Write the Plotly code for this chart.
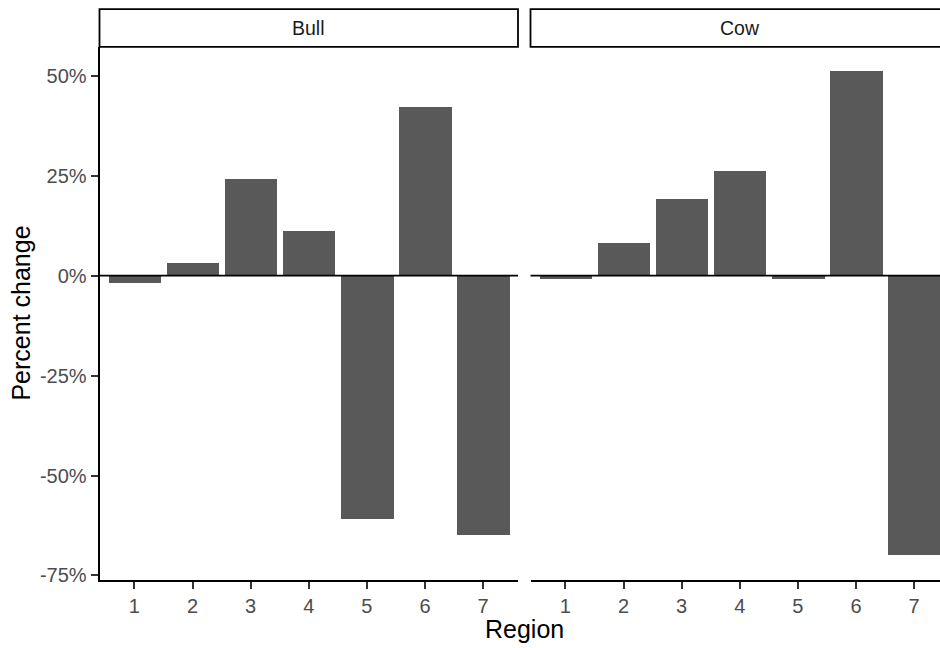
import plotly.graph_objects as go

# Percent change by region, faceted by animal class
regions = [1, 2, 3, 4, 5, 6, 7]
bull_change = [-0.02, 0.03, 0.24, 0.11, -0.61, 0.42, -0.65]
cow_change = [-0.01, 0.08, 0.19, 0.26, -0.01, 0.51, -0.70]
facets = ["Bull", "Cow"]
y_ticks = [-0.75, -0.50, -0.25, 0.0, 0.25, 0.50]
y_tick_labels = ["-75%", "-50%", "-25%", "0%", "25%", "50%"]

W, H = 940, 648
FONT = "Liberation Sans"
BAR = "#595959"

# panel geometry in pixels
left_panel = (99.5, 518.0)
right_panel = (530.5, 949.5)
panel_top, panel_bottom = 48.0, 586.0
strip_top, strip_bottom = 9.3, 47.3
px_per_unit = (left_panel[1] - left_panel[0]) / 7.2


def px(x):
    return x / W


def py(y):
    return 1 - y / H


fig = go.Figure()
for vals, xa, ya in [(bull_change, "x", "y"), (cow_change, "x2", "y2")]:
    fig.add_trace(go.Bar(
        x=regions, y=vals, width=0.9, xaxis=xa, yaxis=ya,
        marker=dict(color=BAR, line=dict(width=0)),
        showlegend=False, hoverinfo="x+y",
    ))

tick_font = dict(family=FONT, size=20, color="#4D4D4D")
common_x = dict(
    tickmode="array", tickvals=regions, ticktext=[str(r) for r in regions],
    showline=True, linecolor="black", linewidth=1.8,
    ticks="outside", ticklen=7, tickwidth=1.8, tickcolor="#333333",
    tickfont=tick_font, showgrid=False, zeroline=False,
)
y_range = [-0.7605, 0.5705]
# the second panel runs past the right edge of the page, so its range is cut
right_max = 0.4 + (W - right_panel[0]) / px_per_unit

fig.update_layout(
    width=W, height=H,
    margin=dict(l=0, r=0, t=0, b=0),
    paper_bgcolor="white", plot_bgcolor="white",
    bargap=0,
    xaxis=dict(domain=[px(left_panel[0]), px(left_panel[1])], range=[0.4, 7.6],
               anchor="y", **common_x),
    xaxis2=dict(domain=[px(right_panel[0]), 1.0], range=[0.4, right_max],
                anchor="y2", **common_x),
    yaxis=dict(domain=[py(panel_bottom), py(panel_top)], range=y_range,
               anchor="x", tickmode="array", tickvals=y_ticks,
               ticktext=y_tick_labels, showline=True, linecolor="black",
               linewidth=1.8, ticks="outside", ticklen=7, tickwidth=1.8,
               tickcolor="#333333", tickfont=tick_font, showgrid=False,
               zeroline=False),
    yaxis2=dict(domain=[py(panel_bottom), py(panel_top)], range=y_range,
                anchor="x2", matches="y", showticklabels=False,
                showline=False, ticks="", showgrid=False, zeroline=False),
)

shapes = []
annotations = []
for name, (x0, x1) in zip(facets, [left_panel, right_panel]):
    shapes.append(dict(
        type="rect", xref="paper", yref="paper",
        x0=px(x0), x1=px(x1), y0=py(strip_bottom), y1=py(strip_top),
        line=dict(color="black", width=1.8), fillcolor="white", layer="above",
    ))
    annotations.append(dict(
        text=name, xref="paper", yref="paper",
        x=px((x0 + x1) / 2), y=py((strip_top + strip_bottom) / 2),
        xanchor="center", yanchor="middle", showarrow=False,
        font=dict(family=FONT, size=19.5, color="#1A1A1A"),
    ))

# reference line at zero in each panel
for xd, ya in [("x domain", "y"), ("x2 domain", "y2")]:
    shapes.append(dict(
        type="line", xref=xd, yref=ya, x0=0, x1=1, y0=0, y1=0,
        line=dict(color="black", width=1.8), layer="above",
    ))

annotations.append(dict(
    text="Region", xref="paper", yref="paper",
    x=px((left_panel[0] + right_panel[1]) / 2), y=py(636),
    xanchor="center", yanchor="middle", showarrow=False,
    font=dict(family=FONT, size=25, color="black"),
))
annotations.append(dict(
    text="Percent change", xref="paper", yref="paper",
    x=px(21), y=py((panel_top + panel_bottom) / 2),
    xanchor="center", yanchor="middle", textangle=-90, showarrow=False,
    font=dict(family=FONT, size=25, color="black"),
))

fig.update_layout(shapes=shapes, annotations=annotations)
fig.write_html("out.html")
